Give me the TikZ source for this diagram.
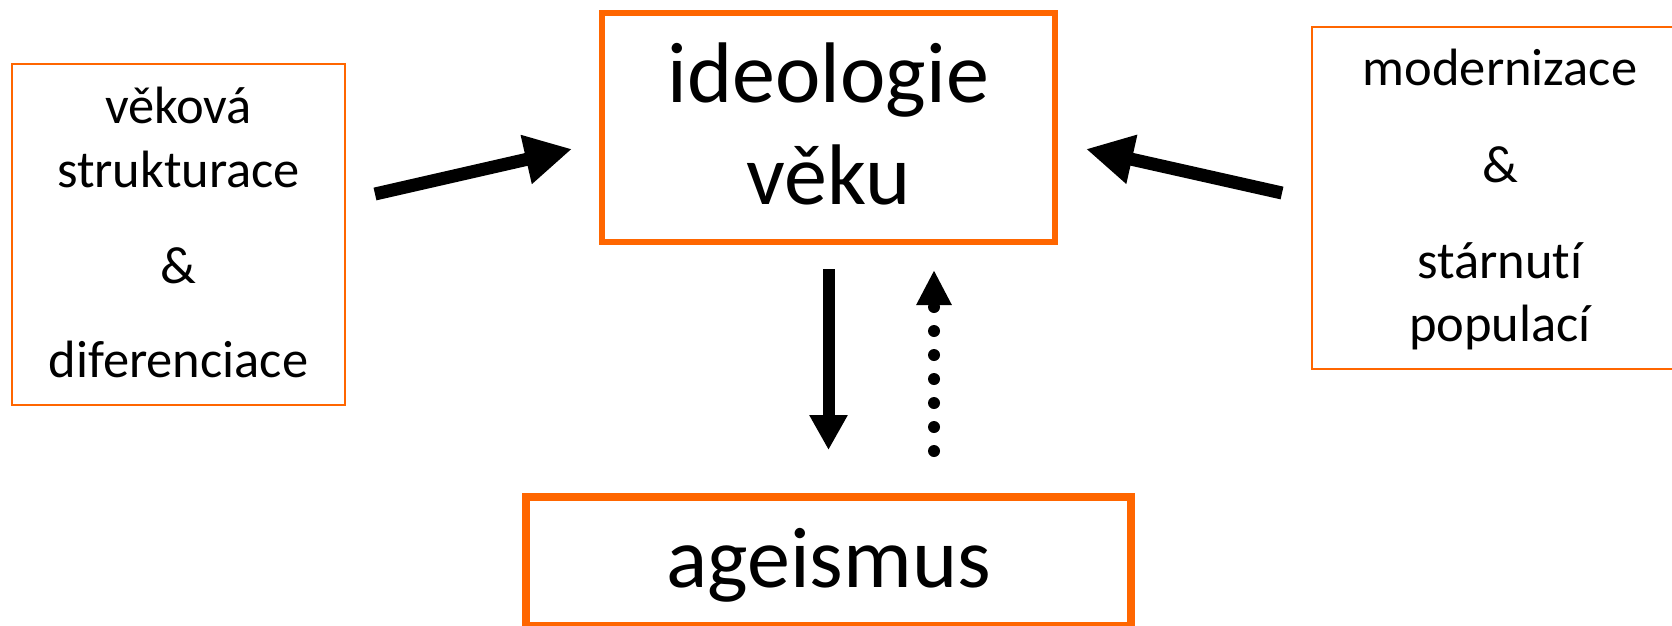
\documentclass[tikz,border=0pt]{standalone}
\usepackage{fontspec}
\setmainfont{Carlito}[Ligatures=CommonOff]
\usetikzlibrary{arrows.meta}
\definecolor{boxorange}{RGB}{255,102,0}
\begin{document}
\begin{tikzpicture}[x=1pt,y=-1pt,
  thinbox/.style={draw=boxorange, line width=2pt, inner sep=0pt},
  thickbox/.style={draw=boxorange, inner sep=0pt},
  bigtext/.style={font=\fontsize{86}{102}\selectfont, anchor=base, inner sep=0pt},
  smalltext/.style={font=\fontsize{52.5}{64}\selectfont, anchor=base, inner sep=0pt},
  diagarrow/.style={line width=13pt, -{Triangle[length=47pt,width=47pt]}},
  vertarrow/.style={line width=12pt, -{Triangle[length=35pt,width=36pt]}},
  dotarrow/.style={line width=12pt, line cap=round, dash pattern=on 0pt off 24pt, -{Triangle[length=35pt,width=33pt]}}]
\useasboundingbox (0,0) rectangle (1672,625);

% boxes
\node[thinbox, minimum width=333pt, minimum height=341pt] (left) at (178.5,234.5) {};
\node[thinbox, minimum width=378pt, minimum height=342pt] (right) at (1501,198) {};
\node[thickbox, line width=6pt, minimum width=453pt, minimum height=229pt] (ideo) at (828.5,127.5) {};
\node[thickbox, line width=8pt, minimum width=605pt, minimum height=129pt] (age) at (828.5,561.5) {};

% texts
\node[bigtext] (ideo1) at (828.5,102) {ideologie};
\node[bigtext] (ideo2) at (828.5,204) {věku};
\node[bigtext] (age1) at (828.5,587) {ageismus};

\node[smalltext] (l1) at (178.5,123) {věková};
\node[smalltext] (l2) at (178.5,187) {strukturace};
\node[smalltext] (l3) at (178.5,283) {\&};
\node[smalltext] (l4) at (178.5,377) {diferenciace};

\node[smalltext] (r1) at (1500,85) {modernizace};
\node[smalltext] (r2) at (1500,182) {\&};
\node[smalltext] (r3) at (1500,278) {stárnut\kern0ptí};
\node[smalltext] (r4) at (1500,341) {populací};

% arrow end points
\coordinate (la) at (375,194);
\coordinate (lb) at (572,149);
\coordinate (ra) at (1282,193);
\coordinate (rb) at (1086,149);
\coordinate (da) at (828.5,269);
\coordinate (db) at (828.5,450);
\coordinate (ua) at (934,451);
\coordinate (ub) at (934,270);

\draw[diagarrow] (la) -- (lb);
\draw[diagarrow] (ra) -- (rb);
\draw[vertarrow] (da) -- (db);
\draw[dotarrow] (ua) -- (ub);
\end{tikzpicture}
\end{document}
